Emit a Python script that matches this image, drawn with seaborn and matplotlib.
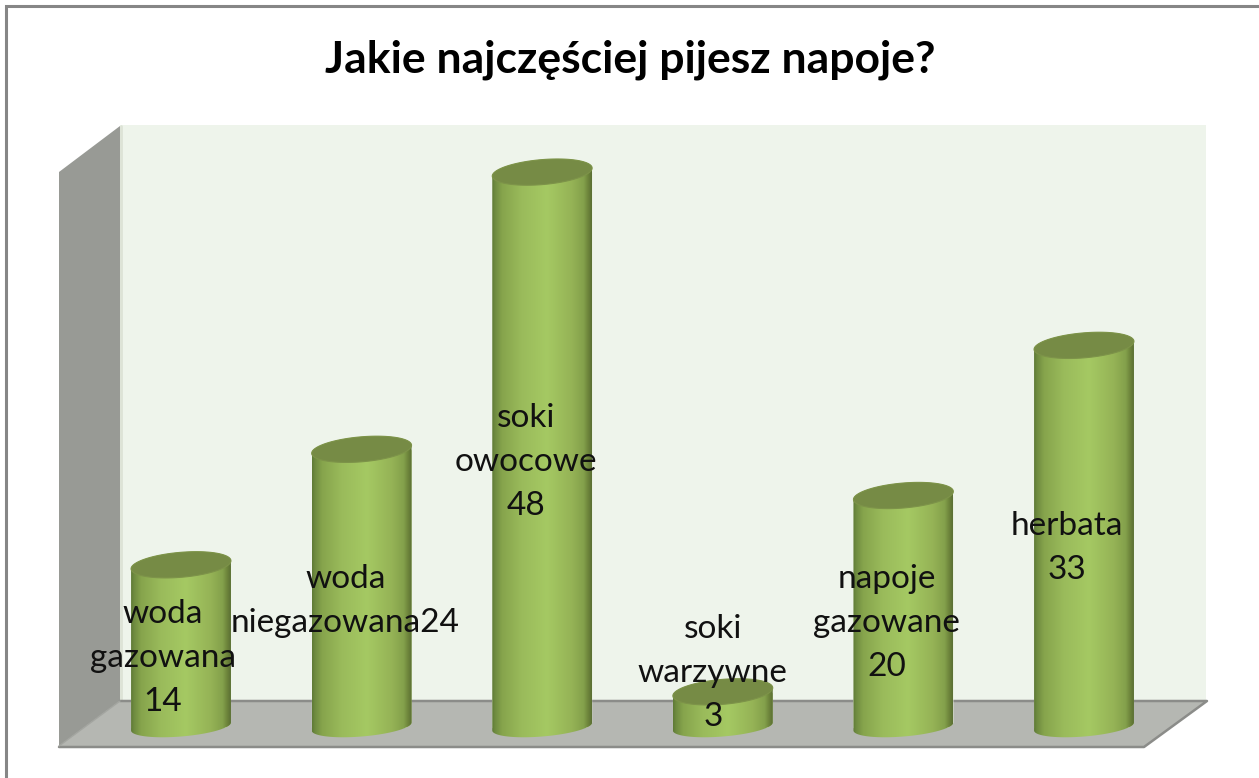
import numpy as np
import pandas as pd
import seaborn as sns
import matplotlib
matplotlib.use("Agg")
import matplotlib.pyplot as plt
from matplotlib.colors import LinearSegmentedColormap
from matplotlib.patches import Polygon

categories = ["woda gazowana", "woda niegazowana", "soki owocowe", "soki warzywne", "napoje gazowane", "herbata"]
values = [14, 24, 48, 3, 20, 33]
label_texts = ["woda\ngazowana\n14", "woda\nniegazowana24", "soki\nowocowe\n48",
               "soki\nwarzywne\n3", "napoje\ngazowane\n20", "herbata\n33"]
title_text = "Jakie najczęściej pijesz napoje?"

# layout (pixels of the 1259x778 picture)
W, H = 1259, 778
PX_PER_UNIT = 11.55
BASE_Y, AX_TOP, AX_BOTTOM = 726.5, 125, 765
AX_LEFT, SPACING = 90.7, 180.6
BAR_WIDTH = 0.553
label_dx_px = [-18, -16, -16, -10, -17, -17]
label_cy_px = [658, 601, 462, 673, 623, 548]

sns.set_theme(style="white")
plt.rcParams["font.family"] = ["Lato", "DejaVu Sans"]

fig = plt.figure(figsize=(W / 100, H / 100), dpi=100, facecolor="white")

# chart frame, walls and floor
bg = fig.add_axes([0, 0, 1, 1])
bg.set_xlim(0, W)
bg.set_ylim(H, 0)
bg.axis("off")
bg.plot([6, 6, W], [H, 6, 6], color="#868686", lw=2.2, solid_joinstyle="miter")
bg.add_patch(Polygon([(120, 125), (1206, 125), (1206, 701), (120, 701)], fc="#eef4eb", ec="none"))
bg.plot([121, 121], [126, 700], color="#dde3d6", lw=2)
bg.add_patch(Polygon([(59, 172), (120, 126), (120, 701), (59, 746)], fc="#989a95", ec="none"))
bg.add_patch(Polygon([(59, 746), (120, 701), (1207, 701), (1144, 747)], fc="#b5b7b2", ec="none"))
bg.plot([120, 1207, 1144, 59], [701, 701, 747, 747], color="#8b8c89", lw=1.8)
bg.plot([59, 120], [746, 701], color="#a3a5a0", lw=1)

# the bars
ax = fig.add_axes([AX_LEFT / W, 1 - AX_BOTTOM / H, 6 * SPACING / W, (AX_BOTTOM - AX_TOP) / H])
ax.patch.set_alpha(0)
df = pd.DataFrame({"napój": categories, "liczba": values})
sns.barplot(data=df, x="napój", y="liczba", color="#94b356", width=BAR_WIDTH, saturation=1, ax=ax)
ymin, ymax = -(AX_BOTTOM - BASE_Y) / PX_PER_UNIT, (BASE_Y - AX_TOP) / PX_PER_UNIT

cyl = LinearSegmentedColormap.from_list("cyl", [
    (0.00, "#5f7a36"), (0.03, "#6f8b40"), (0.10, "#86a44c"), (0.30, "#9abb5b"),
    (0.55, "#a5c963"), (0.80, "#95b356"), (0.92, "#83a04b"), (0.97, "#6a8039"), (1.00, "#5b7035")])
grad = np.linspace(0, 1, 256).reshape(1, -1)
a_top = 12.5 / PX_PER_UNIT
a_base = 10.0 / PX_PER_UNIT
tilt = 4.0 / PX_PER_UNIT

def ring(cx, half, cy, a, t):
    return np.column_stack([cx + half * np.cos(t), cy + a * np.sin(t) + tilt * np.cos(t)])

for bar in list(ax.patches):
    x0, w, v = bar.get_x(), bar.get_width(), bar.get_height()
    cx, half = x0 + w / 2, w / 2
    body = np.vstack([ring(cx, half, 0, a_base, np.linspace(np.pi, 2 * np.pi, 80)),
                      ring(cx, half, v, a_top, np.linspace(0, np.pi, 80))])
    shape = Polygon(body, closed=True, transform=ax.transData, fc="none", ec="none")
    ax.add_patch(shape)
    bar.set_clip_path(shape)
    im = ax.imshow(grad, cmap=cyl, extent=[x0, x0 + w, -3, v + 3], aspect="auto", zorder=3,
                   interpolation="bilinear")
    im.set_clip_path(shape)
    ax.add_patch(Polygon(ring(cx, half, v, a_top, np.linspace(0, 2 * np.pi, 160)), closed=True,
                         fc="#768b45", ec="#7d9349", lw=0.8, zorder=4))

ax.set_xlim(-0.5, 5.5)
ax.set_ylim(ymin, ymax)
ax.set_xticks([])
ax.set_yticks([])
ax.set_xlabel("")
ax.set_ylabel("")
sns.despine(ax=ax, left=True, bottom=True)

for i, (txt, dx, cy) in enumerate(zip(label_texts, label_dx_px, label_cy_px)):
    ax.text(i + dx / SPACING, (BASE_Y - cy) / PX_PER_UNIT, txt, ha="center", va="center",
            fontsize=24, color="#111111", linespacing=1.6, zorder=6, multialignment="center")

fig.suptitle(title_text, x=630 / W, y=1 - 60 / H, ha="center", va="center",
             fontsize=32, fontweight="bold", color="black")

fig.savefig("out.png", dpi=100)
